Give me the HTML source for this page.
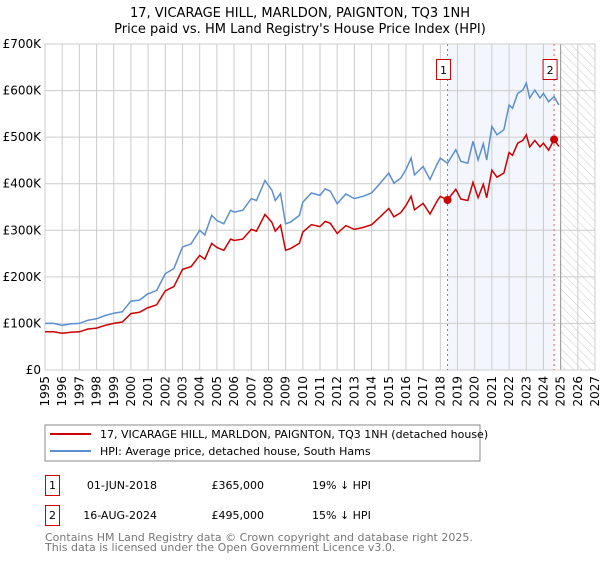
<!DOCTYPE html>
<html><head><meta charset="utf-8"><style>
body{margin:0;background:#fff;width:600px;height:560px;overflow:hidden;font-family:"DejaVu Sans","Liberation Sans",sans-serif}
svg text{font-family:"DejaVu Sans","Liberation Sans",sans-serif}
</style></head><body>
<svg id="c" width="600" height="560" viewBox="0 0 600 560">
<defs><pattern id="hatch" width="6" height="6" patternUnits="userSpaceOnUse" patternTransform="rotate(-45)"><line x1="0" y1="0" x2="0" y2="6" stroke="#ccc" stroke-width="1"/></pattern></defs>
<text x="300" y="17" text-anchor="middle" font-size="13">17, VICARAGE HILL, MARLDON, PAIGNTON, TQ3 1NH</text>
<text x="300" y="33" text-anchor="middle" font-size="13">Price paid vs. HM Land Registry's House Price Index (HPI)</text>
<g id="plot"></g>
<rect x="45" y="425" width="435" height="36" fill="#fff" stroke="#888"/>
<line x1="50" y1="434" x2="91" y2="434" stroke="#cc0000" stroke-width="2"/>
<text x="100" y="438" font-size="11">17, VICARAGE HILL, MARLDON, PAIGNTON, TQ3 1NH (detached house)</text>
<line x1="50" y1="451" x2="91" y2="451" stroke="#5b8fd0" stroke-width="2"/>
<text x="100" y="455" font-size="11">HPI: Average price, detached house, South Hams</text>
<g font-size="11">
<rect x="45.5" y="475.5" width="14" height="20" fill="none" stroke="#cc0000"/>
<text x="52.5" y="489" text-anchor="middle">1</text>
<text x="157" y="489" text-anchor="end">01-JUN-2018</text>
<text x="264" y="489" text-anchor="end">£365,000</text>
<text x="312" y="489">19% ↓ HPI</text>
<rect x="45.5" y="505.5" width="14" height="20" fill="none" stroke="#cc0000"/>
<text x="52.5" y="519" text-anchor="middle">2</text>
<text x="157" y="519" text-anchor="end">16-AUG-2024</text>
<text x="264" y="519" text-anchor="end">£495,000</text>
<text x="312" y="519">15% ↓ HPI</text>
</g>
<text x="45" y="541" font-size="11" fill="#777">Contains HM Land Registry data © Crown copyright and database right 2025.</text>
<text x="45" y="551" font-size="11" fill="#777">This data is licensed under the Open Government Licence v3.0.</text>
</svg>
<script>
const yTicks=[0,100,200,300,400,500,600,700];
const yTickLabels=["£0","£100K","£200K","£300K","£400K","£500K","£600K","£700K"];
const xYears=[1995,1996,1997,1998,1999,2000,2001,2002,2003,2004,2005,2006,2007,2008,2009,2010,2011,2012,2013,2014,2015,2016,2017,2018,2019,2020,2021,2022,2023,2024,2025,2026,2027];
const hpiDates=[1995,1995.5,1996,1996.5,1997,1997.5,1998,1998.5,1999,1999.5,2000,2000.5,2001,2001.1,2001.5,2002,2002.5,2003,2003.5,2004,2004.3,2004.7,2005,2005.4,2005.8,2006,2006.5,2007,2007.3,2007.8,2008.2,2008.4,2008.7,2009,2009.3,2009.8,2010,2010.5,2011,2011.3,2011.6,2012,2012.5,2013,2013.5,2014,2014.5,2015,2015.3,2015.7,2016,2016.3,2016.5,2017,2017.4,2017.8,2018,2018.42,2018.9,2019.2,2019.6,2019.9,2020.2,2020.5,2020.7,2021,2021.3,2021.7,2022,2022.2,2022.5,2022.8,2023,2023.2,2023.5,2023.8,2024,2024.3,2024.62,2024.9];
const hpiValues=[100,100,96,99,100,107,110,117,122,125,148,150,164,165,171,207,218,264,271,300,290,332,321,314,343,339,343,368,364,407,386,364,379,314,318,332,360,380,375,389,384,357,378,368,373,380,401,423,401,412,430,455,419,437,409,441,455,444,473,448,444,491,451,486,451,523,505,516,569,562,594,601,616,584,601,584,594,576,587,569];
const priceValues=[82,82,79,81,82,88,90,96,100,103,121,124,134,135,140,170,179,216,222,246,238,272,263,257,281,278,281,302,298,334,317,298,311,257,261,272,296,312,308,319,315,293,310,302,306,312,329,347,329,338,353,373,344,358,335,362,373,365,388,367,364,403,370,399,370,429,414,423,467,461,487,493,505,479,493,479,487,472,495,480];
const saleDates=[2018.42,2024.62];
const saleValues=[365,495];
const saleLabels=["1","2"];
const X0=45,X1=595,Y0=370,Y1=44;
const xs=t=>X0+(t-1995)/32*(X1-X0);
const ys=v=>Y0-v/700*(Y0-Y1);
const NS="http://www.w3.org/2000/svg";
const g=document.getElementById('plot');
function mk(tag,attrs,parent){const e=document.createElementNS(NS,tag);for(const k in attrs)e.setAttribute(k,attrs[k]);(parent||g).appendChild(e);return e;}
let e=mk('rect',{x:xs(saleDates[0]),y:Y1,width:xs(saleDates[1])-xs(saleDates[0]),height:Y0-Y1,fill:'#eef3fc',opacity:0.7});


e=mk('rect',{x:xs(2025),y:Y1,width:X1-xs(2025),height:Y0-Y1,fill:'url(#hatch)'});


xYears.forEach(yr=>{const l=mk('line',{x1:xs(yr),x2:xs(yr),y1:Y1,y2:Y0,stroke:'#cccccc'});


const tx=xs(yr)+4,ty=376;
const t=mk('text',{x:tx,y:ty,'text-anchor':'end','font-size':12,transform:'rotate(-90 '+tx+' '+ty+')'});t.textContent=yr;

});
yTicks.forEach((v,i)=>{const l=mk('line',{x1:X0,x2:X1,y1:ys(v),y2:ys(v),stroke:'#cccccc'});


const t=mk('text',{x:X0-4,y:ys(v)+4,'text-anchor':'end','font-size':12});t.textContent=yTickLabels[i];

});
e=mk('line',{x1:xs(2025),x2:xs(2025),y1:Y1,y2:Y0,stroke:'#999'});


e=mk('rect',{x:X0,y:Y1,width:X1-X0,height:Y0-Y1,fill:'none',stroke:'#cccccc'});


saleDates.forEach((d,i)=>{const l=mk('line',{x1:xs(d),x2:xs(d),y1:Y1,y2:Y0,stroke:'#e06060','stroke-dasharray':'2,3'});


const r=mk('rect',{x:xs(d)-11,y:59.5,width:14,height:20,fill:'#fff',stroke:'#cc0000'});


const t=mk('text',{x:xs(d)-4,y:74,'text-anchor':'middle','font-size':11});t.textContent=saleLabels[i];

});
const path=(vals)=>hpiDates.map((d,i)=>(i?'L':'M')+xs(d).toFixed(1)+','+ys(vals[i]).toFixed(1)).join(' ');
e=mk('path',{d:path(hpiValues),fill:'none',stroke:'#5b8fd0','stroke-width':1.5});


e=mk('path',{d:path(priceValues),fill:'none',stroke:'#cc0000','stroke-width':1.5});


saleDates.forEach((d,i)=>{const c=mk('circle',{cx:xs(d),cy:ys(saleValues[i]),r:4,fill:'#cc0000'});

});
</script>
</body></html>
